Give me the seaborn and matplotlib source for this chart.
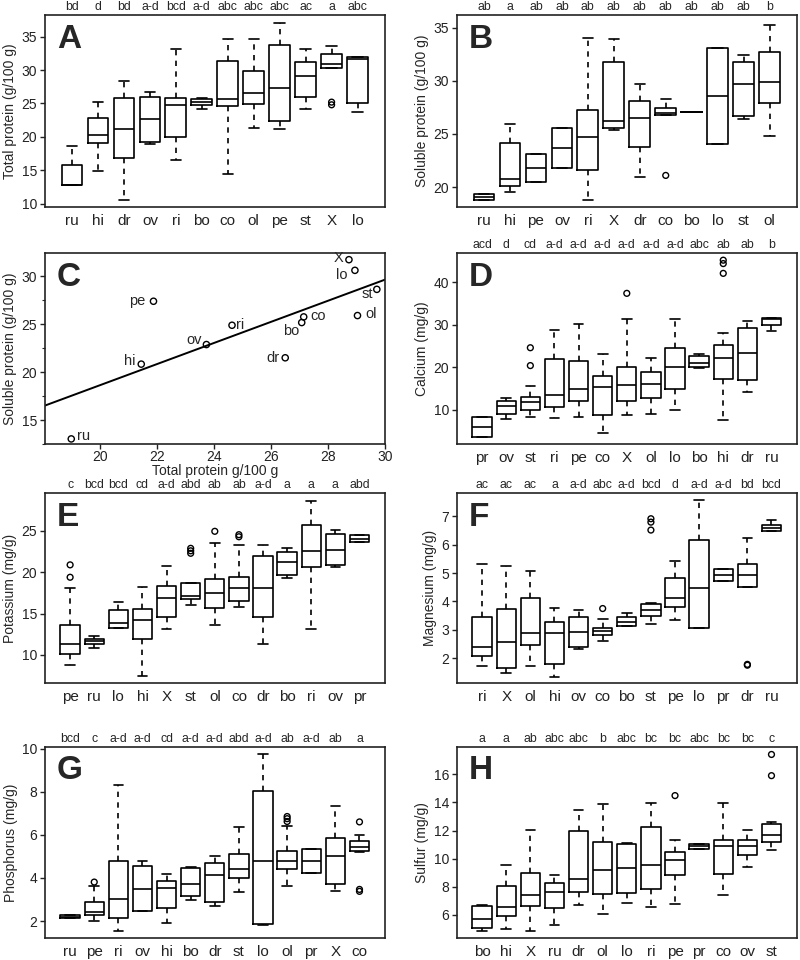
import numpy as np
import pandas as pd
import seaborn as sns
import matplotlib.pyplot as plt
from matplotlib.ticker import MultipleLocator

sns.set_style("ticks")
plt.rcParams['font.family'] = ['Liberation Sans', 'DejaVu Sans']
plt.rcParams['axes.linewidth'] = 1.2

# ---- A: total protein (g/100 g)
a_cats = ['ru', 'hi', 'dr', 'ov', 'ri', 'bo', 'co', 'ol', 'pe', 'st', 'X', 'lo']
a_letters = ['bd', 'd', 'bd', 'a-d', 'bcd', 'a-d', 'abc', 'abc', 'abc', 'ac', 'a', 'abc']
a_lo = [12.85, 14.9, 10.5, 18.9, 16.5, 24.15, 14.5, 21.4, 21.2, 24.1, 30.25, 23.7]
a_q1 = [12.85, 19.15, 16.85, 19.25, 19.95, 24.7, 24.6, 24.9, 22.4, 26.0, 30.35, 25.0]
a_med = [12.85, 20.3, 21.25, 22.6, 24.7, 25.15, 25.65, 26.5, 27.25, 29.1, 30.85, 31.6]
a_q3 = [15.75, 22.75, 25.85, 25.95, 25.85, 25.65, 31.4, 29.9, 33.75, 31.15, 32.35, 31.9]
a_hi = [18.7, 25.15, 28.35, 26.75, 33.1, 25.75, 34.6, 34.6, 37.0, 33.1, 33.6, 31.9]
a_out = [('X', 25.2), ('X', 24.8)]

# ---- B: soluble protein (g/100 g)
b_cats = ['ru', 'hi', 'pe', 'ov', 'ri', 'X', 'dr', 'co', 'bo', 'lo', 'st', 'ol']
b_letters = ['ab', 'a', 'ab', 'ab', 'ab', 'ab', 'ab', 'ab', 'ab', 'ab', 'ab', 'b']
b_lo = [18.82, 19.53, 20.5, 21.8, 18.78, 25.38, 20.93, 26.78, 27.06, 24.08, 26.38, 24.79]
b_q1 = [18.82, 20.12, 20.5, 21.8, 21.65, 25.57, 23.73, 26.78, 27.06, 24.08, 26.69, 27.93]
b_med = [19.1, 20.78, 21.8, 23.67, 24.67, 26.22, 26.47, 26.94, 27.06, 28.62, 29.71, 29.9]
b_q3 = [19.38, 24.14, 23.1, 25.54, 27.25, 31.76, 28.09, 27.47, 27.06, 33.13, 31.79, 32.7]
b_hi = [19.38, 25.9, 23.1, 25.54, 34.04, 33.94, 29.74, 28.25, 27.06, 33.13, 32.42, 35.28]
b_out = [('co', 21.1)]

# ---- C: soluble vs total protein
c_labels = ['X', 'lo', 'st', 'ol', 'co', 'bo', 'dr', 'ri', 'ov', 'hi', 'pe', 'ru']
c_total = [28.74, 28.95, 29.72, 29.04, 27.15, 27.08, 26.5, 24.63, 23.73, 21.44, 21.87, 18.98]
c_soluble = [31.7, 30.59, 28.61, 25.88, 25.74, 25.15, 21.48, 24.87, 22.86, 20.82, 27.37, 13.03]

# ---- D: calcium (mg/g)
d_cats = ['pr', 'ov', 'st', 'ri', 'pe', 'co', 'X', 'ol', 'lo', 'bo', 'hi', 'dr', 'ru']
d_letters = ['acd', 'd', 'cd', 'a-d', 'a-d', 'a-d', 'a-d', 'a-d', 'a-d', 'abc', 'ab', 'ab', 'b']
d_lo = [3.53, 7.87, 8.26, 8.18, 8.42, 4.63, 8.66, 8.97, 10.0, 19.87, 7.63, 14.11, 28.47]
d_q1 = [3.53, 9.05, 9.84, 10.55, 11.97, 8.82, 11.97, 12.68, 14.97, 20.03, 17.26, 16.95, 29.9]
d_med = [5.9, 10.79, 11.82, 13.39, 14.9, 15.37, 15.76, 16.08, 20.03, 20.97, 22.1, 23.4, 31.4]
d_q3 = [8.42, 11.97, 13.0, 22.0, 21.45, 17.89, 20.03, 18.84, 24.6, 22.63, 25.3, 29.3, 31.55]
d_hi = [8.42, 12.76, 15.53, 28.71, 30.29, 23.18, 31.32, 22.24, 31.32, 23.03, 27.95, 30.9, 31.55]
d_out = [('st', 24.6), ('st', 20.4), ('X', 37.4), ('hi', 45.2), ('hi', 44.4), ('hi', 42.1)]

# ---- E: potassium (mg/g)
e_cats = ['pe', 'ru', 'lo', 'hi', 'X', 'st', 'ol', 'co', 'dr', 'bo', 'ri', 'ov', 'pr']
e_letters = ['c', 'bcd', 'bcd', 'cd', 'a-d', 'abd', 'ab', 'ab', 'a-d', 'a', 'a', 'a', 'abd']
e_lo = [8.8, 10.88, 13.2, 7.48, 13.16, 16.08, 13.6, 15.8, 11.36, 19.28, 13.16, 20.6, 23.68]
e_q1 = [10.16, 11.36, 13.28, 11.96, 14.56, 16.8, 15.69, 16.56, 14.56, 19.68, 20.68, 20.88, 23.68]
e_med = [11.28, 11.68, 13.88, 14.2, 16.88, 17.16, 17.49, 18.08, 18.16, 21.2, 22.56, 22.68, 24.08]
e_q3 = [13.6, 11.96, 15.4, 15.6, 18.4, 18.68, 19.17, 19.48, 21.96, 22.4, 25.76, 24.6, 24.56]
e_hi = [18.08, 12.28, 16.36, 18.2, 20.76, 18.7, 23.6, 23.28, 23.28, 22.96, 28.68, 25.08, 24.56]
e_out = [('pe', 20.9), ('pe', 19.4), ('st', 22.9), ('st', 22.6), ('st', 22.3),
         ('ol', 24.96), ('co', 24.55), ('co', 24.3)]

# ---- F: magnesium (mg/g)
f_cats = ['ri', 'X', 'ol', 'hi', 'ov', 'co', 'bo', 'st', 'pe', 'lo', 'pr', 'dr', 'ru']
f_letters = ['ac', 'ac', 'ac', 'a', 'a-d', 'abc', 'a-d', 'bcd', 'd', 'a-d', 'a-d', 'bd', 'bcd']
f_lo = [1.72, 1.46, 1.73, 1.35, 2.32, 2.59, 3.13, 3.2, 3.34, 3.08, 4.72, 4.5, 6.48]
f_q1 = [2.06, 1.65, 2.47, 1.79, 2.4, 2.81, 3.13, 3.49, 3.79, 3.08, 4.72, 4.5, 6.5]
f_med = [2.4, 2.58, 2.88, 2.88, 2.93, 2.97, 3.29, 3.71, 4.12, 4.46, 4.94, 4.95, 6.59]
f_q3 = [3.44, 3.73, 4.11, 3.26, 3.44, 3.05, 3.44, 3.91, 4.82, 6.17, 5.15, 5.33, 6.71]
f_hi = [5.33, 5.24, 5.09, 3.77, 3.7, 3.37, 3.58, 3.93, 5.44, 7.59, 5.15, 6.23, 6.89]
f_out = [('co', 3.75), ('st', 6.92), ('st', 6.8), ('st', 6.52), ('dr', 1.78), ('dr', 1.75)]

# ---- G: phosphorus (mg/g)
g_cats = ['ru', 'pe', 'ri', 'ov', 'hi', 'bo', 'dr', 'st', 'lo', 'ol', 'pr', 'X', 'co']
g_letters = ['bcd', 'c', 'a-d', 'a-d', 'cd', 'a-d', 'a-d', 'abd', 'a-d', 'ab', 'a-d', 'ab', 'a']
g_lo = [2.15, 2.0, 1.53, 2.46, 1.92, 3.0, 2.72, 3.34, 1.8, 3.65, 4.23, 3.39, 5.2]
g_q1 = [2.15, 2.26, 2.14, 2.46, 2.62, 3.16, 2.88, 4.0, 1.87, 4.4, 4.23, 3.73, 5.25]
g_med = [2.2, 2.42, 3.03, 3.47, 3.53, 3.7, 4.16, 4.43, 4.77, 4.78, 4.78, 5.0, 5.43]
g_q3 = [2.26, 2.88, 4.78, 4.55, 3.84, 4.47, 4.69, 5.11, 8.02, 5.23, 5.36, 5.85, 5.7]
g_hi = [2.26, 3.62, 8.3, 4.81, 4.2, 4.52, 5.0, 6.36, 9.77, 6.41, 5.36, 7.32, 6.0]
g_out = [('pe', 3.81), ('ol', 6.85), ('ol', 6.75), ('ol', 6.62), ('co', 6.6), ('co', 3.47), ('co', 3.38)]

# ---- H: sulfur (mg/g)
h_cats = ['bo', 'hi', 'X', 'ru', 'dr', 'ol', 'lo', 'ri', 'pe', 'pr', 'co', 'ov', 'st']
h_letters = ['a', 'a', 'ab', 'abc', 'abc', 'b', 'abc', 'bc', 'bc', 'abc', 'bc', 'bc', 'c']
h_lo = [4.87, 4.99, 4.87, 5.27, 6.68, 6.05, 6.87, 6.52, 6.8, 10.69, 7.42, 9.4, 10.58]
h_q1 = [5.06, 5.93, 6.59, 6.47, 7.65, 7.51, 7.58, 7.86, 8.81, 10.69, 8.88, 10.29, 11.19]
h_med = [5.69, 6.52, 7.39, 7.65, 8.55, 9.18, 9.35, 9.54, 9.87, 10.88, 10.88, 10.88, 11.71]
h_q3 = [6.64, 8.05, 9.0, 8.29, 11.94, 11.19, 11.07, 12.23, 10.48, 11.05, 11.35, 11.31, 12.46]
h_hi = [6.71, 9.51, 12.06, 8.83, 13.43, 13.88, 11.12, 13.95, 11.35, 11.05, 13.95, 12.06, 12.6]
h_out = [('pe', 14.49), ('st', 17.42), ('st', 15.91)]


def style_axes(ax):
    for s in ax.spines.values():
        s.set_visible(True)
        s.set_linewidth(1.2)
        s.set_color('#222222')
    ax.tick_params(axis='both', direction='out', length=3.5, width=1, labelsize=10, pad=2, colors='#222222')


def tag(ax, letter):
    ax.text(0.035, 0.955, letter, transform=ax.transAxes, ha='left', va='top',
            fontsize=24, fontweight='heavy')


def box_panel(ax, cats, lo, q1, med, q3, hi, outs, letters, ylabel, yticks, ylim, letter):
    rows = []
    for c, a, b, m, d, e in zip(cats, lo, q1, med, q3, hi):
        for v in (a, b, m, d, e):
            rows.append((c, v))
    df = pd.DataFrame(rows, columns=['cat', 'val'])
    sns.boxplot(data=df, x='cat', y='val', order=cats, whis=(0, 100), width=0.8,
                fill=False, color='black', linewidth=1.2,
                whiskerprops=dict(linestyle=(0, (3.2, 3.2))), ax=ax)
    odf = pd.DataFrame(outs, columns=['cat', 'val'])
    sns.stripplot(data=odf, x='cat', y='val', order=cats, jitter=False, color='black',
                  marker='o', size=4.2, linewidth=1, edgecolor='black', facecolor='none', ax=ax)
    style_axes(ax)
    ax.tick_params(axis='x', length=0, pad=5, labelsize=11)
    ax.set_xlim(-1.05, len(cats) + 0.05)
    ax.set_ylim(*ylim)
    ax.set_yticks(yticks)
    ax.set_xlabel('')
    ax.set_ylabel(ylabel, fontsize=10, labelpad=3)
    trans = ax.get_xaxis_transform()
    for i, lt in enumerate(letters):
        ax.text(i, 1.012, lt, transform=trans, ha='center', va='bottom', fontsize=8.8)
    tag(ax, letter)


fig = plt.figure(figsize=(8, 9.6), dpi=100)
L, R, W = 0.056, 0.571, 0.425
rows_y = [(0.7844, 0.2), (0.5375, 0.199), (0.2885, 0.198), (0.023, 0.199)]

axA = fig.add_axes([L, rows_y[0][0], W, rows_y[0][1]])
axB = fig.add_axes([R, rows_y[0][0], W, rows_y[0][1]])
axC = fig.add_axes([L, rows_y[1][0], W, rows_y[1][1]])
axD = fig.add_axes([R, rows_y[1][0], W, rows_y[1][1]])
axE = fig.add_axes([L, rows_y[2][0], W, rows_y[2][1]])
axF = fig.add_axes([R, rows_y[2][0], W, rows_y[2][1]])
axG = fig.add_axes([L, rows_y[3][0], W, rows_y[3][1]])
axH = fig.add_axes([R, rows_y[3][0], W, rows_y[3][1]])

box_panel(axA, a_cats, a_lo, a_q1, a_med, a_q3, a_hi, a_out, a_letters,
          'Total protein (g/100 g)', [10, 15, 20, 25, 30, 35], (9.5, 38.25), 'A')
box_panel(axB, b_cats, b_lo, b_q1, b_med, b_q3, b_hi, b_out, b_letters,
          'Soluble protein (g/100 g)', [20, 25, 30, 35], (18.13, 36.2), 'B')
box_panel(axD, d_cats, d_lo, d_q1, d_med, d_q3, d_hi, d_out, d_letters,
          'Calcium (mg/g)', [10, 20, 30, 40], (1.95, 46.9), 'D')
box_panel(axE, e_cats, e_lo, e_q1, e_med, e_q3, e_hi, e_out, e_letters,
          'Potassium (mg/g)', [10, 15, 20, 25], (6.6, 29.6), 'E')
box_panel(axF, f_cats, f_lo, f_q1, f_med, f_q3, f_hi, f_out, f_letters,
          'Magnesium (mg/g)', [2, 3, 4, 5, 6, 7], (1.12, 7.83), 'F')
box_panel(axG, g_cats, g_lo, g_q1, g_med, g_q3, g_hi, g_out, g_letters,
          'Phosphorus (mg/g)', [2, 4, 6, 8, 10], (1.22, 10.08), 'G')
box_panel(axH, h_cats, h_lo, h_q1, h_med, h_q3, h_hi, h_out, h_letters,
          'Sulfur (mg/g)', [6, 8, 10, 12, 14, 16], (4.35, 17.96), 'H')

# ---- panel C scatter with regression line
axC.set_xlim(18.05, 30)
sns.scatterplot(x=c_total, y=c_soluble, ax=axC, marker='o', s=20, facecolor='none',
                edgecolor='black', linewidth=1)
sns.regplot(x=c_total, y=c_soluble, ax=axC, scatter=False, ci=None, truncate=False,
            color='black', line_kws=dict(linewidth=1.4))
offsets = {'X': (-4, 1.5, 'right'), 'lo': (-5, -3, 'right'), 'st': (-3, -3, 'right'),
           'ol': (6, 1, 'left'), 'co': (5, 1, 'left'), 'bo': (-2, -6, 'right'),
           'dr': (-4, 0, 'right'), 'ri': (3, 0, 'left'), 'ov': (-3, 3, 'right'),
           'hi': (-4, 2, 'right'), 'pe': (-6, 0, 'right'), 'ru': (4, 2, 'left')}
for lab, xv, yv in zip(c_labels, c_total, c_soluble):
    dx, dy, ha = offsets[lab]
    axC.annotate(lab, (xv, yv), xytext=(dx, dy), textcoords='offset points',
                 ha=ha, va='center', fontsize=10.5)
style_axes(axC)
axC.tick_params(axis='x', pad=1)
axC.set_xlim(18.05, 30)
axC.set_ylim(12.5, 32.4)
axC.set_xticks([20, 22, 24, 26, 28, 30])
axC.set_yticks([15, 20, 25, 30])
axC.yaxis.set_minor_locator(MultipleLocator(2.5))
axC.tick_params(axis='y', which='minor', direction='out', length=2.5, width=0.8)
axC.set_xlabel('Total protein g/100 g', fontsize=10, labelpad=0)
axC.set_ylabel('Soluble protein (g/100 g)', fontsize=10, labelpad=3)
tag(axC, 'C')

fig.savefig('out.png', dpi=100)
